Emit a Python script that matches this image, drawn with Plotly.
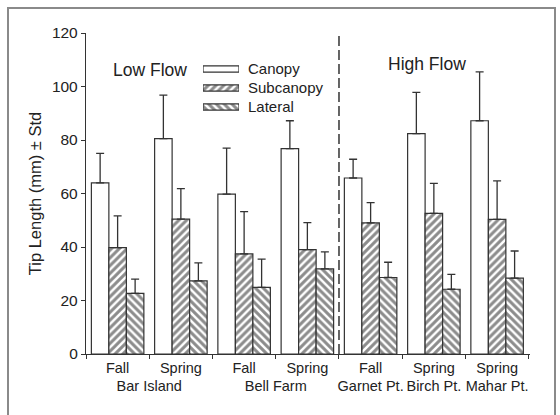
import plotly.graph_objects as go

sites = ["Bar Island", "Bar Island", "Bell Farm", "Bell Farm", "Garnet Pt.", "Birch Pt.", "Mahar Pt."]
seasons = ["Fall", "Spring", "Fall", "Spring", "Fall", "Spring", "Spring"]

canopy = [64.0, 80.5, 59.8, 76.8, 65.8, 82.4, 87.2]
canopy_std = [11.0, 16.3, 17.2, 10.4, 7.0, 15.4, 18.3]
subcanopy = [39.8, 50.4, 37.4, 39.0, 49.0, 52.6, 50.3]
subcanopy_std = [11.8, 11.4, 15.8, 10.1, 7.6, 11.2, 14.4]
lateral = [22.7, 27.3, 24.9, 31.8, 28.6, 24.2, 28.4]
lateral_std = [5.3, 6.8, 10.6, 6.4, 5.7, 5.6, 10.1]

series_names = ["Canopy", "Subcanopy", "Lateral"]
y_ticks = [0, 20, 40, 60, 80, 100, 120]
legend_key = [1, 1, 1]

FONT = "Liberation Sans, Arial, sans-serif"
INK = "#222222"
LINE = "#333333"

# layout geometry (pixels)
W, H = 560, 415
ML, MR, MT, MB = 86, 30, 33, 61
PW, PH = W - ML - MR, H - MT - MB


def px_x(p):
    return (p - ML) / PW


def px_y(p):
    return (H - MB - p) / PH


patterns = [
    dict(shape="", fgcolor=LINE, bgcolor="white"),
    dict(shape="/", fgcolor="#1a1a1a", bgcolor="white", size=5.5, solidity=0.55),
    dict(shape="\\", fgcolor="#1a1a1a", bgcolor="white", size=5.5, solidity=0.55),
]
values = [canopy, subcanopy, lateral]
stds = [canopy_std, subcanopy_std, lateral_std]

fig = go.Figure()
for name, vals, sd, pat in zip(series_names, values, stds, patterns):
    fig.add_trace(go.Bar(
        x=[sites, seasons], y=vals, name=name,
        marker=dict(color="white", pattern=pat, line=dict(color=LINE, width=1.2)),
        error_y=dict(type="data", symmetric=False, array=sd, arrayminus=[0] * len(sd),
                     color=LINE, thickness=1.3, width=4),
        showlegend=False,
    ))

# custom legend drawn as a tiny bar chart
for name, pat, v in zip(series_names, patterns, legend_key):
    fig.add_trace(go.Bar(
        x=[v], y=[name], orientation="h", xaxis="x2", yaxis="y2",
        offsetgroup="leg", width=0.32,
        marker=dict(color="white", pattern=pat, line=dict(color=LINE, width=1.2)),
        showlegend=False, hoverinfo="skip",
    ))

fig.update_layout(
    width=W, height=H,
    margin=dict(l=ML, r=MR, t=MT, b=MB, autoexpand=False),
    paper_bgcolor="white", plot_bgcolor="white",
    font=dict(family=FONT, color=INK, size=15),
    barmode="group", bargap=0.17, bargroupgap=0,
    xaxis=dict(
        type="multicategory", range=[-0.5, 6.52], showdividers=False,
        showline=True, linecolor=LINE, linewidth=1.3,
        ticks="outside", ticklen=4, tickcolor=LINE,
        tickfont=dict(size=14.5, color=INK), showgrid=False, zeroline=False,
    ),
    yaxis=dict(
        range=[0, 120], tickvals=y_ticks, showline=True, linecolor=LINE, linewidth=1.3,
        ticks="outside", ticklen=4, tickcolor=LINE, tickfont=dict(size=15.5, color=INK),
        showgrid=False, zeroline=False,
        title=dict(text="Tip Length (mm) ± Std", font=dict(size=16.5, color=INK), standoff=6),
    ),
    xaxis2=dict(domain=[px_x(203), px_x(239)], range=[0, 1], anchor="y2",
                visible=False, fixedrange=True),
    yaxis2=dict(domain=[px_y(116.5), px_y(59.5)], anchor="x2", side="right",
                categoryorder="array", categoryarray=series_names, range=[2.5, -0.5],
                showline=False, showgrid=False, zeroline=False, ticks="",
                ticklabelstandoff=8, tickfont=dict(size=15, color=INK)),
    shapes=[
        dict(type="line", xref="x", yref="y", x0=3.5, x1=3.5, y0=0, y1=120,
             line=dict(color=LINE, width=1.5, dash="10px,4px")),
        dict(type="rect", xref="paper", yref="paper",
             x0=px_x(8), x1=px_x(555), y0=px_y(420), y1=px_y(8),
             line=dict(color="#8a8a8a", width=2), layer="below"),
    ],
    annotations=[
        dict(text="Low Flow", xref="paper", yref="paper", x=px_x(150), y=px_y(70),
             xanchor="center", yanchor="middle",
             showarrow=False, font=dict(size=17.5, color=INK)),
        dict(text="High Flow", xref="paper", yref="paper", x=px_x(427), y=px_y(64),
             xanchor="center", yanchor="middle",
             showarrow=False, font=dict(size=17.5, color=INK)),
    ],
)

fig.write_html(
    "out.html",
    config={"displayModeBar": False},
    post_script="document.body.style.margin='0';document.body.style.overflow='hidden';",
)
